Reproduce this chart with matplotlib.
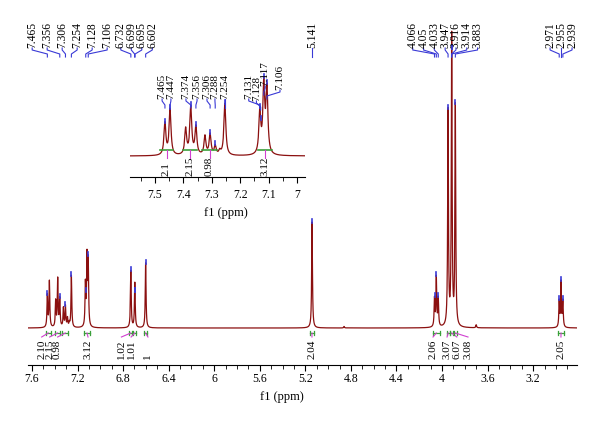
import numpy as np
import matplotlib
matplotlib.use("Agg")
import matplotlib.pyplot as plt
from matplotlib.ticker import MultipleLocator, FuncFormatter

plt.rcParams['font.family'] = ['Liberation Serif', 'DejaVu Serif']

# peaks (ppm, height in plot units)
peak_ppm = [7.465, 7.447, 7.392, 7.374, 7.356, 7.324, 7.306, 7.288, 7.272, 7.254,
            7.131, 7.117, 7.106, 6.732, 6.697, 6.602, 5.141, 4.86,
            4.066, 4.050, 4.033, 3.947, 3.915, 3.883, 3.70,
            2.971, 2.955, 2.939]
peak_height = [32, 46, 26, 48, 28, 19, 21, 9, 4, 52,
               42, 68, 64, 57, 45, 65, 106, 1.5,
               28, 49, 28, 215, 290, 220, 3,
               26, 45, 26]

# labelled shifts, top of main plot
shift_groups = [[7.465, 7.356, 7.306, 7.254, 7.128, 7.106],
                [6.732, 6.699, 6.695, 6.602],
                [5.141],
                [4.066, 4.05, 4.033, 3.947, 3.916, 3.914, 3.883],
                [2.971, 2.955, 2.939]]
group_spacing = [15, 10.5, 10, 10.8, 11]

# integrals, main plot
int_text = ['2.10', '2.15', '0.98', '3.12', '1.02', '1.01', '1', '2.04',
            '2.06', '3.07', '6.07', '3.08', '2.05']
int_start = [7.48, 7.40, 7.335, 7.14, 6.745, 6.71, 6.615, 5.155,
             4.08, 3.96, 3.93, 3.898, 2.985]
int_end = [7.435, 7.35, 7.28, 7.095, 6.72, 6.685, 6.59, 5.128,
           4.02, 3.932, 3.902, 3.87, 2.925]
int_label_x = [7.515, 7.445, 7.375, 7.108, 6.815, 6.730, 6.582, 5.142,
               4.079, 3.956, 3.870, 3.772, 2.956]

# inset
inset_shifts = [7.465, 7.447, 7.374, 7.356, 7.306, 7.288, 7.254,
                7.131, 7.128, 7.117, 7.106]
inset_label_x = [7.475, 7.444, 7.391, 7.352, 7.317, 7.289, 7.254,
                 7.170, 7.143, 7.112, 7.060]
inset_label_y = [57, 57, 57, 57, 57, 57, 57, 57, 55, 70, 66]
inset_int_text = ['2.1', '2.15', '0.98', '3.12']
inset_int_start = [7.482, 7.401, 7.334, 7.137]
inset_int_end = [7.437, 7.352, 7.282, 7.088]

hwhm = 0.004
red = '#8b1010'
blue = '#3a3ad6'
green = '#3aa03a'
magenta = '#d040d0'


def spectrum(x):
    y = np.zeros_like(x)
    for p, h in zip(peak_ppm, peak_height):
        y += h / (1 + ((x - p) / hwhm) ** 2)
    return y


def fmt(v, pos):
    return f'{round(v, 2):g}'


W, H = 600, 426


def px_rect(l, t, r, b):
    return [l / W, 1 - b / H, (r - l) / W, (b - t) / H]


ppm = np.linspace(2.75, 7.7, 60000)
spec = spectrum(ppm)

fig = plt.figure(figsize=(6, 4.26), dpi=100)

# ---- main spectrum ----
ax = fig.add_axes(px_rect(28, 0, 577, 365))
ax.plot(ppm, spec, color=red, lw=0.9)
ax.set_xlim(7.635, 2.815)
ax.set_ylim(-37, 328)
for s in ['top', 'left', 'right']:
    ax.spines[s].set_visible(False)
ax.set_yticks([])
ax.xaxis.set_major_locator(MultipleLocator(0.4))
ax.xaxis.set_minor_locator(MultipleLocator(0.1))
ax.xaxis.set_major_formatter(FuncFormatter(fmt))
ax.tick_params(axis='x', which='major', length=4, pad=2, labelsize=8.5)
ax.tick_params(axis='x', which='minor', length=3)
ax.set_xlabel('f1 (ppm)', fontsize=9)
ax.xaxis.set_label_coords(0.463, -0.072)

px_per_ppm = 549 / (7.635 - 2.815)
for group, sp in zip(shift_groups, group_spacing):
    n = len(group)
    c = np.mean(group)
    for i, v in enumerate(group):
        lx = c + ((n - 1) / 2 - i) * sp / px_per_ppm
        ax.text(lx, 280, f'{v:g}', rotation=90, ha='center', va='bottom', fontsize=8.3)
        ax.plot([lx, lx, v, v], [280, 278, 274, 271], color=blue, lw=0.8)
        top = spectrum(np.array([v]))[0]
        ax.plot([v, v], [top - 1, top + 3], color=blue, lw=1.2)

for t, s, e, lx in zip(int_text, int_start, int_end, int_label_x):
    ax.plot([s, e], [-5, -5], color=green, lw=0.9)
    ax.plot([s, s], [-3, -7], color=green, lw=0.9)
    ax.plot([e, e], [-3, -7], color=green, lw=0.9)
    ax.plot([(s + e) / 2, lx], [-5, -9], color=magenta, lw=0.8)
    ax.text(lx, -31, t, rotation=90, ha='center', va='bottom', fontsize=8)

# ---- inset ----
ax2 = fig.add_axes(px_rect(130, 62, 305, 177))
ax2.patch.set_alpha(0)
ax2.plot(ppm, spec, color=red, lw=0.9)
ax2.set_xlim(7.588, 6.972)
ax2.set_ylim(-21, 94)
for s in ['top', 'left', 'right']:
    ax2.spines[s].set_visible(False)
ax2.set_yticks([])
ax2.xaxis.set_major_locator(MultipleLocator(0.1))
ax2.xaxis.set_minor_locator(MultipleLocator(0.05))
ax2.xaxis.set_major_formatter(FuncFormatter(fmt))
ax2.tick_params(axis='x', which='major', length=4, pad=5, labelsize=8.5)
ax2.tick_params(axis='x', which='minor', length=3)
ax2.set_xlabel('f1 (ppm)', fontsize=9)
ax2.xaxis.set_label_coords(0.549, -0.26)

for v, lx, ly in zip(inset_shifts, inset_label_x, inset_label_y):
    ax2.text(lx, ly, f'{v:g}', rotation=90, ha='center', va='bottom', fontsize=8)
    ax2.plot([lx, lx, v, v], [ly, ly - 2, ly - 6, ly - 9], color=blue, lw=0.8)
    top = spectrum(np.array([v]))[0]
    ax2.plot([v, v], [top - 1, top + 3], color=blue, lw=1.2)

for t, s, e in zip(inset_int_text, inset_int_start, inset_int_end):
    c = (s + e) / 2
    ax2.plot([s, e], [6, 6], color=green, lw=1.2)
    ax2.plot([c, c], [6, -2], color=magenta, lw=0.8)
    ax2.text(c, -20, t, rotation=90, ha='center', va='bottom', fontsize=8)

fig.savefig('out.png', dpi=100)
